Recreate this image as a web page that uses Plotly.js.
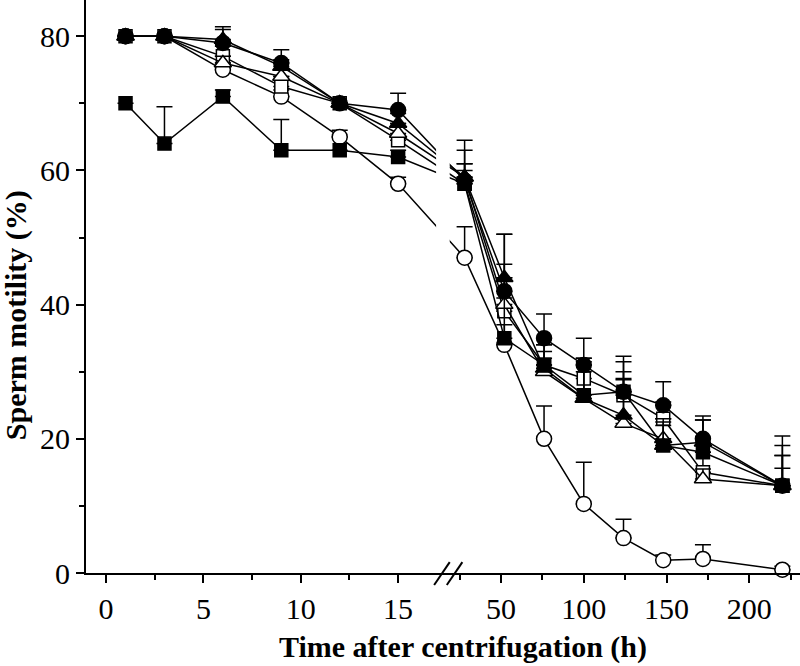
<!DOCTYPE html>
<html>
<head>
<meta charset="utf-8">
<script src="https://cdn.plot.ly/plotly-3.0.1.min.js"></script>
<style>html,body{margin:0;padding:0;background:#fff;}#chart{width:800px;height:666px;}</style>
</head>
<body>
<div id="chart"></div>
<script>
// ---- data ----
const times = [1, 3, 6, 9, 12, 15, 28, 52, 76, 100, 124, 148, 172, 220];

const filledCircle   = [80, 80, 79, 76, 70, 69, 58.5, 42, 35, 31, 27, 25, 20, 13];
const filledCircleE  = [0, 0, 2.4, 2, 0, 2.5, 6, 8.5, 3.6, 4, 5.3, 3.5, 3.4, 7.4];
const filledTri      = [80, 80, 79.5, 75.5, 70, 67, 59, 44, 30.5, 26, 23.5, 19, 19.5, 13];
const filledTriE     = [0, 0, 1.5, 1, 0, 1.5, 4, 6.5, 2.5, 6, 5.5, 3, 3.3, 4.5];
const openTri        = [80, 80, 76, 74, 70, 65.5, 59, 40, 30, 26, 22.3, 20, 14, 13];
const openTriE       = [0, 0, 1, 1, 0, 1.5, 2, 6, 2, 4, 6.5, 2.5, 1.5, 2.6];
const openSq         = [80, 80, 77, 72.5, 70, 64.5, 58, 39, 31, 29, 26.5, 23, 15, 13];
const openSqE        = [0, 0, 1.5, 1.5, 0, 2, 3, 5, 3, 3, 5, 2.5, 3, 4.5];
const filledSq       = [70, 64, 71, 63, 63, 62, 58, 35, 31, 26.5, 27, 19, 18, 13];
const filledSqE      = [0, 5.5, 1, 4.6, 0, 1, 2, 6, 3, 5, 3, 4, 4.8, 6];
const openCircle     = [80, 80, 75, 71, 65, 58, 47, 34, 20, 10.3, 5.2, 1.9, 2.1, 0.5];
const openCircleE    = [0, 0, 1, 1, 1, 1, 4.6, 3, 4.9, 6.2, 2.8, 0.8, 2.1, 0.5];

const tickTimes  = [0, 5, 10, 15, 50, 100, 150, 200];
const tickLabels = ['0', '5', '10', '15', '50', '100', '150', '200'];
const minorTimes = [2.5, 7.5, 12.5, 25, 75, 125, 175, 225];
const yTicks = [0, 20, 40, 60, 80];

// ---- broken axis: left segment linear in hours, right segment compressed ----
const BREAK_U = 17.31;      // axis position of the break
const RIGHT_T0 = 15;        // hour value at the break on the right segment
const RIGHT_SCALE = 0.085;  // right segment scale relative to left
function u(t) { return t <= BREAK_U - 0.5 ? t : BREAK_U + (t - RIGHT_T0) * RIGHT_SCALE; }

const xs = times.map(u);

function series(y, e, symbol, filled, size) {
  return {
    x: xs, y: y, type: 'scatter', mode: 'lines+markers', showlegend: false,
    line: {color: '#000', width: 1.5},
    marker: {symbol: symbol, size: size, color: filled ? '#000' : '#fff',
             line: {color: '#000', width: 1.5}},
    error_y: {type: 'data', symmetric: false, array: e, arrayminus: e.map(() => 0),
              color: '#000', thickness: 1.5, width: 8},
    cliponaxis: false
  };
}

const data = [
  series(openCircle, openCircleE, 'circle', false, 15),
  series(openSq, openSqE, 'square', false, 13),
  series(openTri, openTriE, 'triangle-up', false, 15),
  series(filledSq, filledSqE, 'square', true, 13),
  series(filledTri, filledTriE, 'triangle-up', true, 15),
  series(filledCircle, filledCircleE, 'circle', true, 15)
];

const font = 'Liberation Serif, Times New Roman, serif';

const layout = {
  width: 800, height: 666,
  margin: {l: 86, r: 0, t: 0, b: 93},
  paper_bgcolor: '#fff', plot_bgcolor: '#fff',
  font: {family: font, color: '#000', size: 30},
  xaxis: {
    range: [-1.03, 35.64], showgrid: false, zeroline: false,
    showline: true, linecolor: '#000', linewidth: 2,
    ticks: 'outside', ticklen: 8, tickwidth: 2, tickcolor: '#000',
    tickmode: 'array', tickvals: tickTimes.map(u), ticktext: tickLabels,
    minor: {tickmode: 'array', tickvals: minorTimes.map(u), ticks: 'outside', ticklen: 5, tickwidth: 2, tickcolor: '#000'},
    tickfont: {family: font, size: 30, color: '#000'}
  },
  yaxis: {
    range: [0, 85.4], showgrid: false, zeroline: false,
    showline: true, linecolor: '#000', linewidth: 2,
    ticks: 'outside', ticklen: 8, tickwidth: 2, tickcolor: '#000',
    tickmode: 'array', tickvals: yTicks,
    minor: {dtick: 10, ticks: 'outside', ticklen: 5, tickwidth: 2, tickcolor: '#000'},
    tickfont: {family: font, size: 30, color: '#000'}
  },
  shapes: [
    // gap in the data lines at the axis break
    {type: 'rect', xref: 'x', yref: 'paper', x0: 16.95, x1: 17.65, y0: 0.03, y1: 1,
     fillcolor: '#fff', line: {width: 0}, layer: 'above'},
    // break marks on the x axis
    {type: 'line', xref: 'x', yref: 'paper', x0: 16.85, x1: 17.65, y0: -0.021, y1: 0.019,
     line: {color: '#000', width: 2}},
    {type: 'line', xref: 'x', yref: 'paper', x0: 17.5, x1: 18.3, y0: -0.021, y1: 0.019,
     line: {color: '#000', width: 2}}
  ],
  annotations: [
    {text: '<b>Time after centrifugation (h)</b>', xref: 'paper', yref: 'paper',
     x: 0.528, y: -0.13, xanchor: 'center', yanchor: 'middle', showarrow: false,
     font: {family: font, size: 30, color: '#000'}},
    {text: '<b>Sperm motility (%)</b>', xref: 'paper', yref: 'paper',
     x: -0.098, y: 0.45, xanchor: 'center', yanchor: 'middle', textangle: -90, showarrow: false,
     font: {family: font, size: 30, color: '#000'}}
  ]
};

Plotly.newPlot('chart', data, layout, {displayModeBar: false, staticPlot: true});
</script>
</body>
</html>
